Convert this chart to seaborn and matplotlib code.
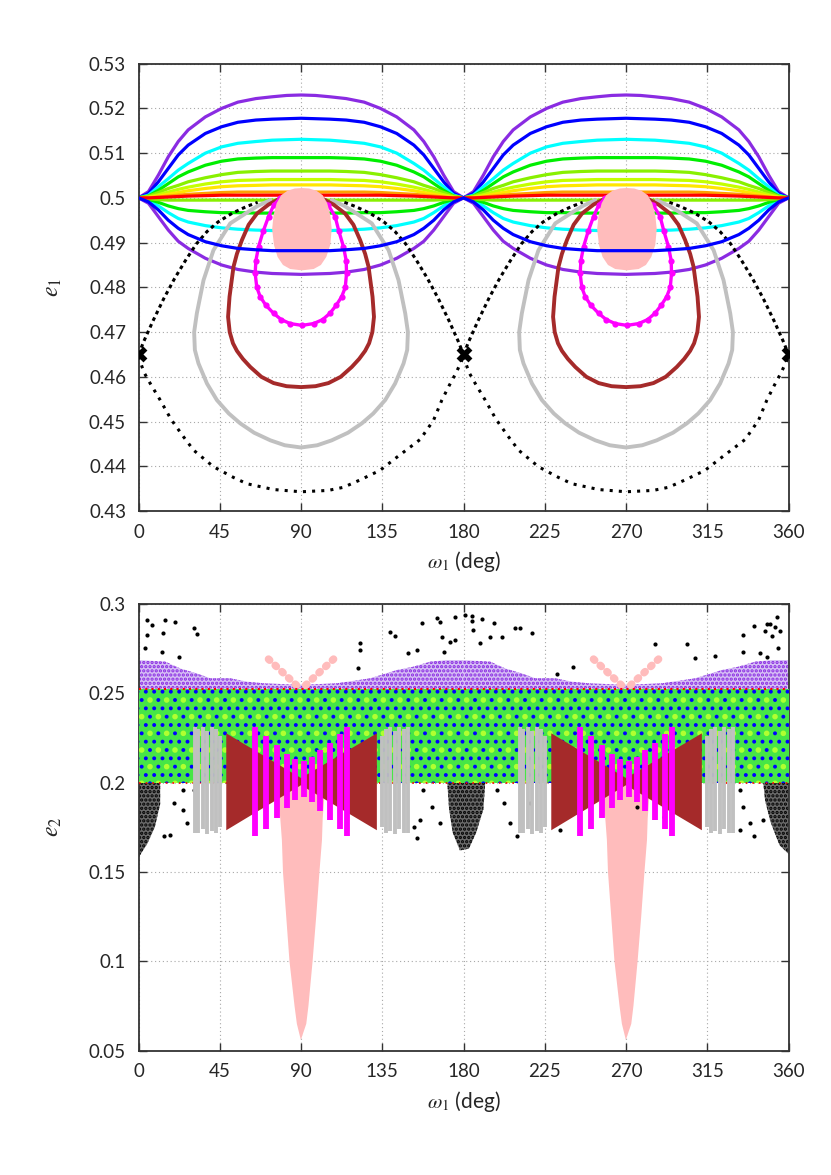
import numpy as np
import seaborn as sns
import matplotlib.pyplot as plt

# ---------------- top panel: e1 vs omega1 (one period 0..180, repeated at +180)
om_lens = [0, 5.5, 11, 16.5, 22, 27.5, 37, 46, 55, 65, 74, 82, 90,
           98, 106, 115, 125, 134, 143, 152.5, 158, 163.5, 169, 174.5, 180]

purple_up = [0.5000, 0.5014, 0.5051, 0.5092, 0.5126, 0.5152, 0.5181, 0.5200, 0.5214, 0.5222, 0.5226, 0.5229, 0.5230,
             0.5229, 0.5226, 0.5222, 0.5214, 0.5200, 0.5181, 0.5152, 0.5126, 0.5092, 0.5051, 0.5014, 0.5000]
purple_lo = [0.5000, 0.4988, 0.4958, 0.4928, 0.4903, 0.4887, 0.4865, 0.4850, 0.4840, 0.4834, 0.4831, 0.4830, 0.4829,
             0.4830, 0.4831, 0.4834, 0.4840, 0.4850, 0.4865, 0.4887, 0.4903, 0.4928, 0.4958, 0.4988, 0.5000]
blue_up = [0.5000, 0.5010, 0.5036, 0.5066, 0.5096, 0.5118, 0.5144, 0.5159, 0.5169, 0.5174, 0.5176, 0.5177, 0.5178,
           0.5177, 0.5176, 0.5174, 0.5169, 0.5159, 0.5144, 0.5118, 0.5096, 0.5066, 0.5036, 0.5010, 0.5000]
blue_lo = [0.5000, 0.4991, 0.4973, 0.4950, 0.4932, 0.4918, 0.4902, 0.4893, 0.4887, 0.4884, 0.4882, 0.4882, 0.4882,
           0.4882, 0.4882, 0.4884, 0.4887, 0.4893, 0.4902, 0.4918, 0.4932, 0.4950, 0.4973, 0.4991, 0.5000]
cyan_up = [0.5000, 0.5006, 0.5025, 0.5043, 0.5062, 0.5077, 0.5100, 0.5114, 0.5122, 0.5126, 0.5129, 0.5130, 0.5131,
           0.5130, 0.5129, 0.5126, 0.5122, 0.5114, 0.5100, 0.5077, 0.5062, 0.5043, 0.5025, 0.5006, 0.5000]
cyan_lo = [0.5000, 0.4995, 0.4982, 0.4967, 0.4954, 0.4946, 0.4938, 0.4933, 0.4930, 0.4928, 0.4927, 0.4927, 0.4927,
           0.4927, 0.4927, 0.4928, 0.4930, 0.4933, 0.4938, 0.4946, 0.4954, 0.4967, 0.4982, 0.4995, 0.5000]
green_up = [0.5000, 0.5004, 0.5017, 0.5032, 0.5047, 0.5058, 0.5073, 0.5082, 0.5087, 0.5089, 0.5090, 0.5090, 0.5090,
            0.5090, 0.5090, 0.5089, 0.5087, 0.5082, 0.5073, 0.5058, 0.5047, 0.5032, 0.5017, 0.5004, 0.5000]
green_lo = [0.5000, 0.4997, 0.4990, 0.4982, 0.4976, 0.4972, 0.4969, 0.4967, 0.4967, 0.4966, 0.4966, 0.4966, 0.4966,
            0.4966, 0.4966, 0.4966, 0.4967, 0.4967, 0.4969, 0.4972, 0.4976, 0.4982, 0.4990, 0.4997, 0.5000]
chart_up = [0.5000, 0.5004, 0.5012, 0.5021, 0.5028, 0.5036, 0.5045, 0.5052, 0.5057, 0.5059, 0.5060, 0.5060, 0.5060,
            0.5060, 0.5060, 0.5059, 0.5057, 0.5052, 0.5045, 0.5036, 0.5028, 0.5021, 0.5012, 0.5004, 0.5000]
chart_lo = [0.5000, 0.4998, 0.4996, 0.4995, 0.4995, 0.4995, 0.4995, 0.4995, 0.4995, 0.4995, 0.4995, 0.4995, 0.4995,
            0.4995, 0.4995, 0.4995, 0.4995, 0.4995, 0.4995, 0.4995, 0.4995, 0.4995, 0.4996, 0.4998, 0.5000]
ygreen_up = [0.5000, 0.5002, 0.5007, 0.5013, 0.5019, 0.5024, 0.5031, 0.5036, 0.5039, 0.5040, 0.5041, 0.5041, 0.5041,
             0.5041, 0.5041, 0.5040, 0.5039, 0.5036, 0.5031, 0.5024, 0.5019, 0.5013, 0.5007, 0.5002, 0.5000]
yellow_up = [0.5000, 0.5001, 0.5004, 0.5008, 0.5012, 0.5016, 0.5021, 0.5025, 0.5027, 0.5028, 0.5029, 0.5029, 0.5029,
             0.5029, 0.5029, 0.5028, 0.5027, 0.5025, 0.5021, 0.5016, 0.5012, 0.5008, 0.5004, 0.5001, 0.5000]
orange_up = [0.5000, 0.5000, 0.5002, 0.5004, 0.5006, 0.5008, 0.5010, 0.5012, 0.5013, 0.5013, 0.5013, 0.5013, 0.5013,
             0.5013, 0.5013, 0.5013, 0.5013, 0.5012, 0.5010, 0.5008, 0.5006, 0.5004, 0.5002, 0.5000, 0.5000]
red_up = [0.5000, 0.5000, 0.5001, 0.5002, 0.5003, 0.5004, 0.5005, 0.5006, 0.5006, 0.5006, 0.5006, 0.5006, 0.5006,
          0.5006, 0.5006, 0.5006, 0.5006, 0.5006, 0.5005, 0.5004, 0.5003, 0.5002, 0.5001, 0.5000, 0.5000]

# separatrix (black)
sep_left_om = [0, 3, 8, 14, 20, 26, 32, 38, 44, 52, 60, 66]
sep_left_e = [0.4650, 0.4680, 0.4725, 0.4775, 0.4820, 0.4860, 0.4897, 0.4925, 0.4946, 0.4966, 0.4981, 0.4990]
sep_right_om = [114, 120, 128, 136, 142, 148, 154, 160, 166, 172, 177, 180]
sep_right_e = [0.4990, 0.4981, 0.4966, 0.4946, 0.4925, 0.4897, 0.4860, 0.4820, 0.4775, 0.4725, 0.4680, 0.4650]
sep_low_om = [0, 3, 6.5, 12, 18, 24.9, 30.5, 41.5, 52.6, 60, 74.8, 90, 105, 113.5, 123, 133.8,
              143, 150.5, 156, 163.4, 168, 172, 176, 180]
sep_low_e = [0.4645, 0.4610, 0.4585, 0.4548, 0.4505, 0.4466, 0.4436, 0.4399, 0.4375, 0.4361, 0.4348,
             0.4343, 0.4346, 0.4353, 0.4370, 0.4391, 0.4420, 0.4443, 0.4460, 0.4503, 0.4548, 0.4580,
             0.4610, 0.4645]
knot_om = [0, 180, 360]
knot_e = [0.4650, 0.4650, 0.4650]

gray_om = [73, 66, 60, 50.8, 41.5, 36, 32.3, 30.8, 31.2, 33.2, 37.9, 43.4, 50, 56.3, 64, 73, 81, 90,
           99, 107, 116, 123.7, 130, 136.6, 142.1, 146.8, 148.8, 149.2, 147.7, 144, 138.5, 129.2, 120, 114, 107]
gray_e = [0.4995, 0.4982, 0.4967, 0.4943, 0.4883, 0.4816, 0.4742, 0.4700, 0.4660, 0.4630, 0.4585, 0.4548,
          0.4518, 0.4496, 0.4475, 0.4458, 0.4447, 0.4442, 0.4447, 0.4458, 0.4475, 0.4496, 0.4518, 0.4548,
          0.4585, 0.4630, 0.4660, 0.4700, 0.4742, 0.4816, 0.4883, 0.4943, 0.4967, 0.4982, 0.4995]

brown_om = [78.5, 72, 65.6, 61, 57.3, 54.5, 52.6, 50.4, 49.6, 50.5, 52.3, 54.5, 57.8, 61.9, 68, 74.8, 82, 90,
            98, 105.2, 112, 118.1, 122.2, 125.5, 127.7, 129.5, 130.4, 129.6, 127.4, 125.5, 122.7, 119, 114.4, 108, 101.5]
brown_e = [0.4999, 0.4985, 0.4965, 0.4940, 0.4906, 0.4875, 0.4846, 0.4779, 0.4734, 0.4700, 0.4675, 0.4658,
           0.4640, 0.4622, 0.4600, 0.4586, 0.4579, 0.4577, 0.4579, 0.4586, 0.4600, 0.4622, 0.4640, 0.4658,
           0.4675, 0.4700, 0.4734, 0.4779, 0.4846, 0.4875, 0.4906, 0.4940, 0.4965, 0.4985, 0.4999]

mag_om = [78.5, 75, 72, 69, 66.5, 65, 64.6, 65.5, 67.4, 70.5, 74.8, 79, 84, 90.5, 97, 102, 106, 109.5,
          112.5, 114.5, 115.2, 115, 113.5, 111, 108.9, 105, 99.7]
mag_e = [0.4999, 0.4985, 0.4958, 0.4925, 0.4891, 0.4860, 0.4831, 0.4800, 0.4779, 0.4760, 0.4742, 0.4728,
         0.4719, 0.4715, 0.4719, 0.4728, 0.4742, 0.4760, 0.4779, 0.4800, 0.4831, 0.4860, 0.4891, 0.4925,
         0.4958, 0.4985, 0.4999]

pink_om = [74, 74.8, 76.5, 79, 82.5, 86.5, 90.5, 94.5, 98.5, 102, 104.5, 106.2, 107, 106.2, 104, 101,
           97, 90.5, 84, 80, 77, 75]
pink_e = [0.4930, 0.4962, 0.4988, 0.5006, 0.5016, 0.5021, 0.5022, 0.5021, 0.5016, 0.5006, 0.4988, 0.4962,
          0.4930, 0.4895, 0.4868, 0.4850, 0.4841, 0.4838, 0.4841, 0.4850, 0.4868, 0.4895]

# ---------------- bottom panel: e2 vs omega1
band_om = [0, 90, 180, 270, 360]
band_top = [0.2525, 0.2525, 0.2525, 0.2525, 0.2525]
band_bot = [0.2000, 0.2000, 0.2000, 0.2000, 0.2000]

cap_om = [0, 14.8, 23.1, 32.3, 39.7, 50.8, 60, 69.2, 90, 109.8, 120, 128.3, 143.1, 152.3, 161.5, 170.8, 180]
cap_top = [0.2685, 0.2676, 0.2638, 0.2610, 0.2583, 0.2583, 0.2564, 0.2555, 0.2546, 0.2555, 0.2570,
           0.2583, 0.2629, 0.2648, 0.2676, 0.2685, 0.2685]

cloud0_om = [0, 12, 12, 9, 5, 0]
cloud0_e = [0.2000, 0.2000, 0.1880, 0.1750, 0.1660, 0.1580]
cloud180_om = [171, 192, 191, 187, 183, 178, 174, 172]
cloud180_e = [0.2000, 0.2000, 0.1850, 0.1720, 0.1630, 0.1620, 0.1720, 0.1850]
cloud360_om = [346, 360, 360, 355, 350, 347]
cloud360_e = [0.2000, 0.2000, 0.1600, 0.1650, 0.1780, 0.1900]

dots_om = [4.6, 7.4, 14.8, 20.3, 30.5, 32.3, 4.6, 13.8, 3.7, 13.0, 22.2, 122.8, 122.8, 121.5, 139.4,
           142.2, 156.9, 165.3, 167.1, 175.4, 168.0, 172.6, 149.5, 154.1, 169.0, 180.9,
           184.6, 184.6, 190.2, 185.5, 188.9, 196.6, 194.8, 201.3, 208.6, 211.4, 217.9, 175.4,
           286.2, 304.0, 308.3, 319.4, 240.9, 231.7, 335.0, 340.6, 348.0, 349.8, 352.6, 347.1,
           350.7, 355.3, 353.5, 335.0, 344.3, 348.0, 354.4,
           19.4, 24.9, 26.8, 13.9, 17.6, 24.9, 30.5, 152.3, 156.0, 157.8, 162.5, 167.1, 154.1,
           122.8, 198.4, 202.2, 205.8, 209.5, 216.9, 333.2, 335.0, 338.8, 340.6, 346.1, 333.2,
           233.5, 275.9, 290.8]
dots_e = [0.2909, 0.2881, 0.2909, 0.2896, 0.2866, 0.2829, 0.2825, 0.2834, 0.2751, 0.2732, 0.2704,
          0.2779, 0.2741, 0.2642, 0.2843, 0.2819, 0.2890, 0.2918, 0.2899, 0.2927, 0.2816, 0.2788,
          0.2723, 0.2741, 0.2728, 0.2937,
          0.2929, 0.2903, 0.2916, 0.2853, 0.2779, 0.2890, 0.2816, 0.2816, 0.2862, 0.2862, 0.2838,
          0.2797, 0.2775, 0.2775, 0.2695, 0.2708, 0.2648, 0.2605, 0.2825, 0.2877, 0.2886, 0.2886,
          0.2868, 0.2849, 0.2821, 0.2849, 0.2923, 0.2732, 0.2723, 0.2704, 0.2751,
          0.1884, 0.1959, 0.1772, 0.1698, 0.1707, 0.1847, 0.1959, 0.1753, 0.1791, 0.1959, 0.1865,
          0.1772, 0.1689, 0.1865, 0.1959, 0.1884, 0.1772, 0.1698, 0.1884, 0.1959, 0.1865, 0.1772,
          0.1698, 0.1791, 0.1735, 0.1735, 0.1865, 0.1809]

gray_cols = [31, 33, 35.5, 38, 40.5, 43, 45, 135, 137, 139.5, 142, 144.5, 147, 149.5]
gray_cols_top = [0.2312, 0.2300, 0.2310, 0.2290, 0.2310, 0.2300, 0.2260,
                 0.2260, 0.2300, 0.2310, 0.2290, 0.2310, 0.2300, 0.2312]
gray_cols_bot = [0.1720, 0.1720, 0.1740, 0.1710, 0.1730, 0.1720, 0.1750,
                 0.1750, 0.1720, 0.1730, 0.1710, 0.1740, 0.1720, 0.1720]

bow_om = [48.6, 90, 132, 132, 90, 48.6]
bow_e = [0.2275, 0.2025, 0.2275, 0.1733, 0.1985, 0.1733]

mag_cols = [64.6, 70.7, 76.6, 82.2, 86.8, 91.4, 96.0, 100.6, 106.2, 111.7, 115.7]
mag_cols_top = [0.2312, 0.2260, 0.2210, 0.2160, 0.2130, 0.2120, 0.2140, 0.2180, 0.2220, 0.2270, 0.2312]
mag_cols_bot = [0.1700, 0.1740, 0.1800, 0.1860, 0.1900, 0.1920, 0.1890, 0.1840, 0.1790, 0.1740, 0.1700]

funnel_om = [76.5, 78.5, 79.4, 80, 81.8, 83.6, 86.4, 87.7, 89.9, 92.9, 94.1, 96.4, 98.4, 100.2, 101.6, 102, 103.5]
funnel_e = [0.2000, 0.1800, 0.1678, 0.1500, 0.1250, 0.1000, 0.0750, 0.0650, 0.0560, 0.0650, 0.0750,
            0.1000, 0.1250, 0.1500, 0.1678, 0.1800, 0.2000]
vleft_om = [72, 90]
vleft_e = [0.2690, 0.2520]
vright_om = [108, 90]
vright_e = [0.2690, 0.2520]

C_PURPLE, C_BLUE, C_CYAN, C_GREEN = '#8a2be2', '#0000ff', '#00ffff', '#00ee00'
C_CHART, C_YGREEN, C_YELLOW, C_ORANGE, C_RED = '#88f000', '#c4ff00', '#ffe600', '#ffa000', '#ff0000'
C_GRAY, C_BROWN, C_MAG, C_PINK = '#c0c0c0', '#a52a2a', '#ff00ff', '#ffbcbc'

sns.set_theme(style="ticks")
plt.rcParams['font.family'] = ['Lato', 'DejaVu Sans']
plt.rcParams['mathtext.fontset'] = 'stix'
plt.rcParams['hatch.linewidth'] = 1.6

fig = plt.figure(figsize=(8.31, 11.75), dpi=100)
ax1 = fig.add_axes([0.1667, 0.5651, 0.7822, 0.3807])
ax2 = fig.add_axes([0.1667, 0.1058, 0.7822, 0.3804])


def line(ax, x, y, color, lw=2.3, ls='-', z=2, **kw):
    sns.lineplot(x=np.asarray(x, dtype=float), y=y, ax=ax, color=color, lw=lw, ls=ls,
                 sort=False, estimator=None, zorder=z, **kw)


# ---- top panel
lens = [(purple_up, C_PURPLE), (purple_lo, C_PURPLE), (blue_up, C_BLUE),
        (cyan_up, C_CYAN), (cyan_lo, C_CYAN), (green_up, C_GREEN), (green_lo, C_GREEN),
        (chart_up, C_CHART), (chart_lo, C_CHART), (ygreen_up, C_YGREEN),
        (yellow_up, C_YELLOW), (orange_up, C_ORANGE), (red_up, C_RED)]
for shift in (0, 180):
    om = np.array(om_lens) + shift
    for vals, c in lens:
        line(ax1, om, vals, c)
    line(ax1, om, blue_lo, C_BLUE, z=6)
    line(ax1, np.array(sep_left_om) + shift, sep_left_e, 'black', lw=2.2, ls=(0, (1.2, 1.2)), z=3)
    line(ax1, np.array(sep_right_om) + shift, sep_right_e, 'black', lw=2.2, ls=(0, (1.2, 1.2)), z=3)
    line(ax1, np.array(sep_low_om) + shift, sep_low_e, 'black', lw=2.2, ls=(0, (1.0, 2.0)), z=3)
    line(ax1, np.array(gray_om) + shift, gray_e, C_GRAY, lw=2.8, z=3)
    line(ax1, np.array(brown_om) + shift, brown_e, C_BROWN, lw=2.8, z=4)
    line(ax1, np.array(mag_om) + shift, mag_e, C_MAG, lw=2.4, z=4, marker='o', markersize=4.5,
         markeredgewidth=0)
    ax1.fill(np.array(pink_om) + shift, pink_e, color=C_PINK, zorder=5, lw=0)
sns.scatterplot(x=knot_om, y=knot_e, ax=ax1, color='black', marker='X', s=130, linewidth=0, zorder=3)

# ---- bottom panel
for shift in (0, 180):
    ax2.fill_between(np.array(cap_om) + shift, 0.2525, cap_top, facecolor='#d6bff5',
                     edgecolor=C_PURPLE, hatch='....', lw=0, zorder=2)
    ax2.fill(np.array(funnel_om) + shift, funnel_e, color=C_PINK, lw=0, zorder=2)
    for vx, vy in ((vleft_om, vleft_e), (vright_om, vright_e)):
        sns.lineplot(x=np.array(vx) + shift, y=vy, ax=ax2, color=C_PINK, lw=5.5,
                     ls=(0, (0.2, 1.0)), dash_capstyle='round', sort=False, estimator=None, zorder=2)

ax2.fill_between(band_om, band_bot, band_top, facecolor='#46e646', lw=0, zorder=3)
ax2.fill_between(band_om, band_bot, band_top, facecolor='none', edgecolor=C_BLUE,
                 hatch='..', lw=0, zorder=3)
ax2.fill_between(band_om, band_bot, band_top, facecolor='none', edgecolor='#b0ff30',
                 hatch='.', lw=0, zorder=3)
line(ax2, band_om, band_top, C_RED, lw=1.5, ls=(0, (1, 2)), z=3)
line(ax2, band_om, band_bot, C_RED, lw=1.2, ls=(0, (1, 3)), z=3)

for cx, ce in ((cloud0_om, cloud0_e), (cloud180_om, cloud180_e), (cloud360_om, cloud360_e)):
    ax2.fill(cx, ce, facecolor='#6a6a6a', edgecolor='black', hatch='....', lw=0, zorder=2)
sns.scatterplot(x=dots_om, y=dots_e, ax=ax2, color='black', s=9, linewidth=0, zorder=2)

for shift in (0, 180):
    ax2.vlines(np.array(gray_cols) + shift, gray_cols_bot, gray_cols_top, color=C_GRAY, lw=2.8,
               zorder=4)
    ax2.fill(np.array(bow_om) + shift, bow_e, color=C_BROWN, lw=0, zorder=4)
    ax2.vlines(np.array(mag_cols) + shift, mag_cols_bot, mag_cols_top, color=C_MAG, lw=4.2,
               zorder=5)

# ---- axes styling
for ax, yt, ylab in ((ax1, [0.43, 0.44, 0.45, 0.46, 0.47, 0.48, 0.49, 0.50, 0.51, 0.52, 0.53], r'$e_1$'),
                     (ax2, [0.05, 0.1, 0.15, 0.2, 0.25, 0.3], r'$e_2$')):
    ax.set_xlim(0, 360)
    ax.set_ylim(yt[0], yt[-1])
    ax.set_xticks([0, 45, 90, 135, 180, 225, 270, 315, 360])
    ax.set_yticks(yt)
    ax.set_yticklabels(['{:g}'.format(v) for v in yt])
    ax.tick_params(direction='in', top=True, right=True, length=6, width=1.0,
                   labelsize=13.5, pad=9, color='#333333')
    ax.grid(True, color='#a8a8a8', lw=0.8, ls=(0, (1, 2.5)))
    ax.set_axisbelow(True)
    for sp in ax.spines.values():
        sp.set_color('#333333')
        sp.set_linewidth(1.3)
    ax.set_xlabel(r'$\omega_1$ (deg)', fontsize=15, labelpad=6)
    ax.set_ylabel(ylab, fontsize=17, labelpad=18, rotation=90)

fig.savefig('out.png', dpi=100)
